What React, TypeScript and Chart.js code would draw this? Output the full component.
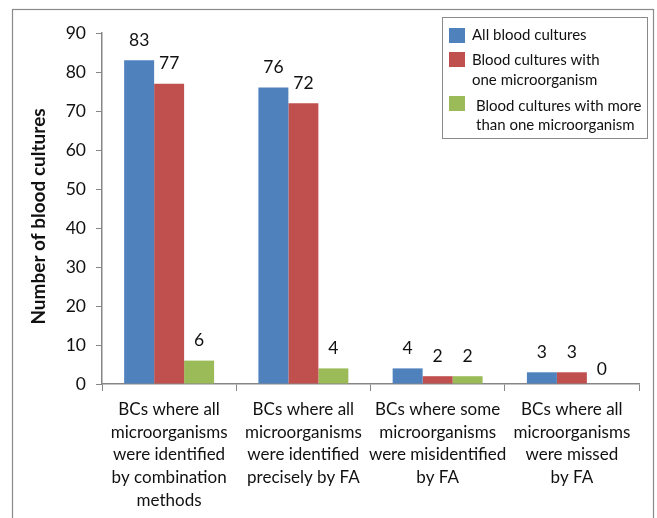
import React, { useEffect, useRef } from "react";
import { Chart, registerables } from "chart.js";

Chart.register(...registerables);

const categories: string[][] = [
  ["BCs where all", "microorganisms", "were identified", "by combination", "methods"],
  ["BCs where all", "microorganisms", "were identified", "precisely by FA"],
  ["BCs where some", "microorganisms", "were misidentified", "by FA"],
  ["BCs where all", "microorganisms", "were missed", "by FA"],
];

const allBC = [83, 76, 4, 3];
const oneMicro = [77, 72, 2, 3];
const moreMicro = [6, 4, 2, 0];

const seriesNames: string[][] = [
  ["All blood cultures"],
  ["Blood cultures with", "one microorganism"],
  ["Blood cultures with more", "than one microorganism"],
];
const colors = ["#4F81BD", "#C0504D", "#9BBB59"];

const yTicks = [0, 10, 20, 30, 40, 50, 60, 70, 80, 90];
const yTitle = "Number of blood cultures";

const FONT = "Lato, 'Open Sans', sans-serif";
const AXIS_COLOR = "#868686";

const framePlugin = {
  id: "frame",
  beforeDraw(chart: any) {
    const ctx = chart.ctx;
    ctx.save();
    ctx.strokeStyle = "#8a8a8a";
    ctx.lineWidth = 1.2;
    ctx.strokeRect(12.5, 9.5, 641, 600);
    ctx.restore();
  },
};

const yTitlePlugin = {
  id: "yTitle",
  afterDraw(chart: any) {
    const ctx = chart.ctx;
    ctx.save();
    ctx.translate(45, 216.5);
    ctx.rotate(-Math.PI / 2);
    ctx.font = `bold 19px ${FONT}`;
    ctx.fillStyle = "#111";
    ctx.textAlign = "center";
    ctx.textBaseline = "alphabetic";
    ctx.fillText(yTitle, 0, 0);
    ctx.restore();
  },
};

const valueLabelPlugin = {
  id: "valueLabels",
  afterDatasetsDraw(chart: any) {
    const ctx = chart.ctx;
    ctx.save();
    ctx.font = `17.5px ${FONT}`;
    ctx.fillStyle = "#111";
    ctx.textAlign = "center";
    ctx.textBaseline = "middle";
    chart.data.datasets.forEach((ds: any, i: number) => {
      const meta = chart.getDatasetMeta(i);
      meta.data.forEach((bar: any, j: number) => {
        const v = ds.data[j];
        const off = v === 0 ? 15 : 20;
        ctx.fillText(String(v), bar.x, bar.y - off);
      });
    });
    ctx.restore();
  },
};

const legendPlugin = {
  id: "customLegend",
  afterDraw(chart: any) {
    const ctx = chart.ctx;
    ctx.save();
    ctx.strokeStyle = "#8a8a8a";
    ctx.lineWidth = 1;
    ctx.strokeRect(442.5, 17.5, 205, 121);
    ctx.font = `15px ${FONT}`;
    ctx.fillStyle = "#111";
    ctx.textAlign = "left";
    ctx.textBaseline = "middle";
    const boxTops = [28, 52, 96];
    const textYs = [[35], [60, 80], [106, 125]];
    const textX = [472, 472, 476];
    seriesNames.forEach((lines, i) => {
      ctx.fillStyle = colors[i];
      ctx.fillRect(449, boxTops[i], 16, 15);
      ctx.fillStyle = "#111";
      lines.forEach((l, k) => ctx.fillText(l, textX[i], textYs[i][k]));
    });
    ctx.restore();
  },
};

export default function App() {
  const ref = useRef<HTMLCanvasElement>(null);
  useEffect(() => {
    document.body.style.margin = "0";
    const chart = new Chart(ref.current!, {
      type: "bar",
      data: {
        labels: categories,
        datasets: [
          { label: seriesNames[0].join(" "), data: allBC, backgroundColor: colors[0] },
          { label: seriesNames[1].join(" "), data: oneMicro, backgroundColor: colors[1] },
          { label: seriesNames[2].join(" "), data: moreMicro, backgroundColor: colors[2] },
        ],
      },
      options: {
        animation: false,
        responsive: false,
        maintainAspectRatio: false,
        layout: { padding: { left: 0, right: 18, top: 33, bottom: 0 } },
        datasets: { bar: { categoryPercentage: 0.67, barPercentage: 1.0 } } as any,
        plugins: { legend: { display: false }, tooltip: { enabled: false } },
        scales: {
          x: {
            grid: {
              offset: true,
              drawOnChartArea: false,
              drawTicks: true,
              tickLength: 7,
              color: AXIS_COLOR,
            },
            border: { color: AXIS_COLOR, width: 1.5 },
            ticks: {
              autoSkip: false,
              maxRotation: 0,
              minRotation: 0,
              padding: 7,
              color: "#111",
              font: { family: FONT, size: 17, lineHeight: 1.335 },
            },
            afterFit: (s: any) => {
              s.height = 518 - 33 - 351;
            },
          },
          y: {
            min: 0,
            max: 90,
            afterBuildTicks: (s: any) => {
              s.ticks = yTicks.map((v) => ({ value: v }));
            },
            grid: {
              drawOnChartArea: false,
              drawTicks: true,
              tickLength: 6,
              color: AXIS_COLOR,
            },
            border: { color: AXIS_COLOR, width: 1.5 },
            ticks: {
              padding: 10,
              color: "#111",
              font: { family: FONT, size: 17.5 },
            },
            title: { display: false, text: yTitle },
            afterFit: (s: any) => {
              s.width = 102;
            },
          },
        },
      },
      plugins: [framePlugin, valueLabelPlugin, legendPlugin, yTitlePlugin],
    });
    return () => chart.destroy();
  }, []);
  return (
    <div style={{ position: "absolute", left: 0, top: 0, width: 657, height: 518, background: "#fff" }}>
      <canvas ref={ref} width={657} height={518} style={{ width: 657, height: 518 }} />
    </div>
  );
}
